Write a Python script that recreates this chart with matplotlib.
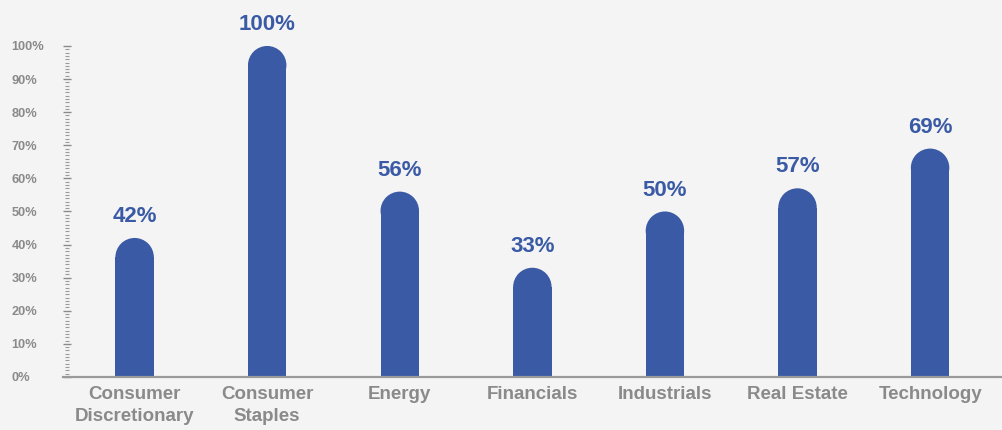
import matplotlib
matplotlib.use('agg')
import matplotlib.pyplot as plt
from matplotlib.patches import Ellipse
from matplotlib.ticker import MultipleLocator, FuncFormatter

categories = ["Consumer\nDiscretionary", "Consumer\nStaples", "Energy", "Financials",
              "Industrials", "Real Estate", "Technology"]
values = [42, 100, 56, 33, 50, 57, 69]
labels = ["42%", "100%", "56%", "33%", "50%", "57%", "69%"]

BLUE = "#3a5aa5"
GREY = "#8a8a8a"
BG = "#f4f4f4"

plt.rcParams['font.family'] = ['Liberation Sans', 'DejaVu Sans']
plt.rcParams['font.weight'] = 'bold'

fig = plt.figure(figsize=(10.03, 4.30), dpi=100, facecolor=BG)
ax = fig.add_axes([0.0668, 0.1233, 0.9332, 0.7698], facecolor=BG)

x = list(range(len(categories)))
w = 0.29
ax.set_xlim(-0.51, 6.55)
ax.set_ylim(0, 100)

# pixel scale so the round caps come out circular
fig.canvas.draw()
bb = ax.get_window_extent()
px_x = bb.width / (6.55 + 0.51)
px_y = bb.height / 100.0
ry = (w / 2) * px_x / px_y

for xi, v, lab in zip(x, values, labels):
    ax.bar(xi, v - ry, width=w, color=BLUE, zorder=2)
    ax.add_patch(Ellipse((xi, v - ry), w, 2 * ry, facecolor=BLUE,
                         edgecolor='none', zorder=2))
    ax.annotate(lab, (xi, v), xytext=(0, 11.5), textcoords='offset points',
                ha='center', va='baseline', fontsize=16, fontweight='bold',
                color=BLUE, annotation_clip=False)

for s in ['top', 'right', 'left']:
    ax.spines[s].set_visible(False)
ax.spines['bottom'].set_color('#9a9a9a')
ax.spines['bottom'].set_linewidth(1.6)
ax.spines['bottom'].set_bounds(-0.54, 6.55)

ax.yaxis.set_major_locator(MultipleLocator(10))
ax.yaxis.set_minor_locator(MultipleLocator(1))
ax.yaxis.set_major_formatter(FuncFormatter(lambda v, p: f"{int(v)}%"))
ax.tick_params(axis='y', which='major', direction='inout', length=6, width=1,
               color='#8a8a8a', labelsize=9.2, labelcolor=GREY, pad=37)
ax.tick_params(axis='y', which='minor', direction='inout', length=3.5, width=0.8,
               color='#9a9a9a')
for t in ax.get_yticklabels():
    t.set_horizontalalignment('left')
    t.set_fontweight('bold')

ax.set_xticks(x)
ax.set_xticklabels(categories, fontsize=13.5, fontweight='bold', color=GREY,
                   linespacing=1.35)
ax.tick_params(axis='x', length=0, pad=6.5)

fig.savefig('out.png', dpi=100, facecolor=BG)
